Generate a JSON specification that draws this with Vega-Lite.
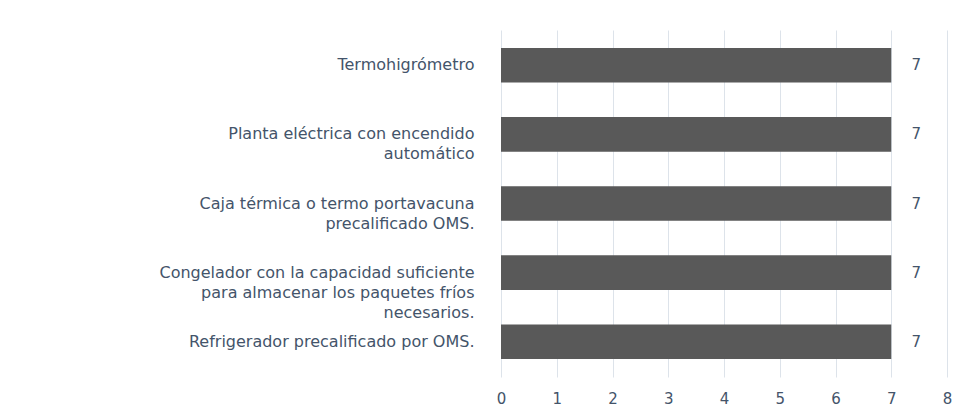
{
  "$schema": "https://vega.github.io/schema/vega-lite/v6.json",
  "width": 446,
  "height": 347,
  "autosize": {"type": "none"},
  "padding": {"left": 501, "top": 30, "right": 29, "bottom": 35},
  "background": "white",
  "config": {"view": {"stroke": null}},
  "data": {
    "values": [
      {"item": "Termohigrómetro", "value": 7},
      {"item": "Planta eléctrica con encendido|automático", "value": 7},
      {"item": "Caja térmica o termo portavacuna|precalificado OMS.", "value": 7},
      {"item": "Congelador con la capacidad suficiente|para almacenar los paquetes fríos|necesarios.", "value": 7},
      {"item": "Refrigerador precalificado por OMS.", "value": 7}
    ]
  },
  "encoding": {
    "y": {
      "field": "item",
      "type": "nominal",
      "sort": null,
      "scale": {"paddingInner": 0.5, "paddingOuter": 0.26},
      "axis": {
        "title": null,
        "labelExpr": "split(datum.label, '|')",
        "labelAlign": "right",
        "labelBaseline": "middle",
        "labelPadding": 27,
        "labelLimit": 0,
        "labelFont": "DejaVu Sans",
        "labelFontSize": 16,
        "labelLineHeight": 20,
        "labelColor": "#44546a",
        "ticks": false,
        "domain": false,
        "grid": false
      }
    },
    "x": {
      "field": "value",
      "type": "quantitative",
      "scale": {"domain": [0, 8], "nice": false},
      "axis": {
        "title": null,
        "values": [0, 1, 2, 3, 4, 5, 6, 7, 8],
        "grid": true,
        "gridColor": "#dde3ea",
        "gridWidth": 1,
        "domain": false,
        "ticks": false,
        "labelFlush": false,
        "labelPadding": 14,
        "labelFont": "DejaVu Sans",
        "labelFontSize": 15,
        "labelColor": "#44546a"
      }
    }
  },
  "layer": [
    {"mark": {"type": "bar", "color": "#595959"}},
    {
      "mark": {"type": "text", "align": "center", "baseline": "middle", "dx": 25, "font": "DejaVu Sans", "fontSize": 15, "color": "#44546a"},
      "encoding": {"text": {"field": "value", "type": "quantitative"}}
    }
  ]
}
